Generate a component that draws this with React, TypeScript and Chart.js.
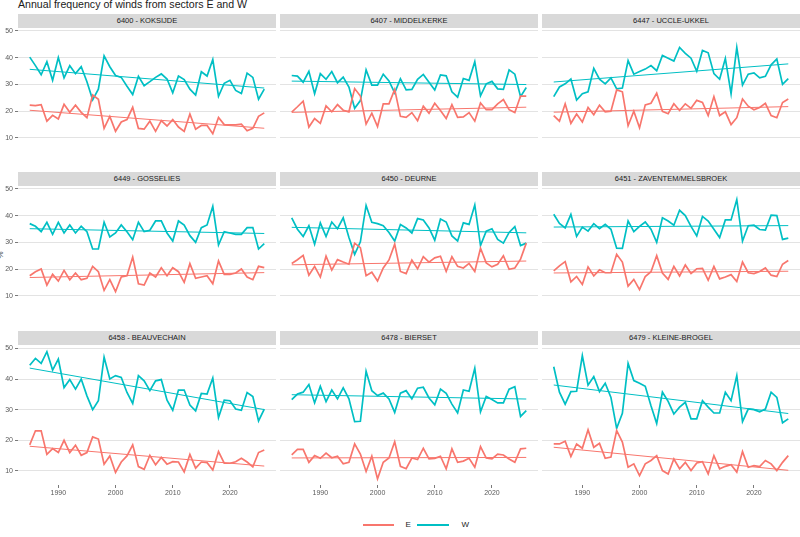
import React, { useEffect, useRef } from "react";
import { Chart, registerables } from "chart.js";
Chart.register(...registerables);

const years = [1985, 1986, 1987, 1988, 1989, 1990, 1991, 1992, 1993, 1994, 1995, 1996, 1997, 1998, 1999, 2000, 2001, 2002, 2003, 2004, 2005, 2006, 2007, 2008, 2009, 2010, 2011, 2012, 2013, 2014, 2015, 2016, 2017, 2018, 2019, 2020, 2021, 2022, 2023, 2024, 2025, 2026];

const stations = [
  "6400 - KOKSIJDE",
  "6407 - MIDDELKERKE",
  "6447 - UCCLE-UKKEL",
  "6449 - GOSSELIES",
  "6450 - DEURNE",
  "6451 - ZAVENTEM/MELSBROEK",
  "6458 - BEAUVECHAIN",
  "6478 - BIERSET",
  "6479 - KLEINE-BROGEL",
];

const E_6400 = [22.2, 22, 22.4, 16.2, 18.4, 17, 22.5, 19.5, 22.2, 19.5, 17.5, 26, 24.4, 13.5, 18, 12.4, 15.9, 16.8, 21.4, 13.5, 13.2, 16.2, 12.4, 16.4, 14.4, 16.8, 14, 12.4, 18.9, 13.2, 14.6, 14.6, 11.5, 17.6, 14.9, 14.8, 14.8, 15.1, 12.6, 13.5, 18, 19.3];
const W_6400 = [40.2, 37, 33.6, 38.5, 31.5, 40, 32.4, 37, 34, 36.6, 31, 24.2, 28.2, 40.7, 36.6, 33.3, 32.6, 29.3, 26.2, 33, 29.5, 31, 32.6, 33.9, 32, 26.8, 33.1, 31.8, 28.2, 26, 34.7, 33.1, 39.3, 25.5, 30.4, 31.5, 27.7, 26.6, 34.2, 32.6, 24.4, 28.2];
const E_6407 = [19.6, 21.6, 23.7, 14, 17.2, 15.4, 21.9, 19.7, 22.4, 20.3, 19.7, 28.4, 25.6, 15.1, 19.2, 14.2, 22.7, 22.7, 28.1, 18, 17.6, 19.4, 16.4, 21.8, 19.2, 22.9, 20.2, 17.2, 22.4, 17.6, 17.8, 19.4, 16.2, 23, 20.5, 20.5, 22.7, 24.3, 20.5, 19.4, 25.6, 25.6];
const W_6407 = [33.3, 33.1, 30.8, 34.9, 26.5, 34, 31.9, 34.8, 30.6, 32.7, 29, 21, 23.9, 35.4, 29.7, 29.7, 33.8, 31.3, 26.8, 32.1, 27.9, 28.1, 31.9, 33.7, 30.8, 27.9, 33.5, 33.2, 27.2, 25.2, 32.2, 31.5, 38.5, 25.7, 30.2, 31.1, 28.3, 28.1, 35.4, 33.8, 25.4, 28.8];
const E_6447 = [18.3, 16.2, 22.7, 15.4, 18.9, 15.9, 21.3, 18.6, 22.2, 19.7, 19.9, 27.9, 27.2, 14.5, 19.9, 13.7, 22.3, 22.9, 26.7, 19.9, 19, 22.7, 20.2, 22.7, 21, 24, 23.2, 18.3, 25.4, 18.3, 19.7, 14.9, 17.5, 24.5, 21.8, 20.5, 21.3, 22.9, 18.3, 17.5, 23.2, 24.5];
const W_6447 = [25.4, 29, 30.2, 32, 24.1, 26.5, 27.2, 36, 31.9, 30.2, 32.4, 28.3, 28.6, 38.9, 33.8, 34.8, 35.7, 37, 35.1, 40.8, 39.8, 38.7, 43.8, 41.6, 39.8, 34.9, 42.7, 41.8, 34, 31.9, 39.7, 26.5, 43.8, 29.7, 33.8, 34.3, 32.4, 33, 37.3, 39.5, 30, 32.1];
const E_6449 = [17.5, 19, 20, 14, 18, 15.5, 19.5, 16, 18.5, 16, 16.5, 21, 19, 12, 16, 11.5, 17, 17.5, 24.5, 14.5, 14, 18.5, 17, 20.5, 17.5, 20.5, 19, 15, 22, 16.5, 17, 17.5, 14.5, 23, 18, 18, 18.5, 20, 17, 16, 21, 20.5];
const W_6449 = [37, 36, 34, 37.5, 33, 37.5, 33.5, 36.5, 33.5, 36, 34, 27.5, 27.5, 37.5, 32, 33.5, 36.5, 34, 31, 37.5, 34, 34.5, 38, 38, 33.5, 30.5, 38, 36.5, 32.5, 30, 35.5, 36.5, 43.5, 29, 34, 33.5, 33, 33, 35.5, 35.5, 27.5, 29.5];
const E_6450 = [22.1, 23.5, 25.1, 17.7, 21, 17, 24.8, 19.6, 23.5, 22.6, 21.8, 29.7, 28, 17.5, 18.8, 15.5, 20.4, 23.4, 29.3, 19.1, 18.3, 23.4, 20.1, 24.6, 22.6, 24.2, 24.8, 19.1, 24.6, 21, 20.4, 22.1, 19.1, 27.8, 22.3, 20.8, 21.8, 25, 19.9, 20.4, 23.7, 29.7];
const W_6450 = [39.2, 34.9, 32.2, 36.2, 29.3, 37.3, 32.2, 37.6, 35.1, 39.2, 31.8, 25.5, 30.2, 43.8, 37.5, 37, 36.2, 33.7, 30.5, 36.7, 35.4, 33.5, 38.9, 38.4, 35.4, 30.8, 38.7, 37.6, 32.4, 30.5, 37.3, 36.7, 44, 28.8, 34.2, 35.1, 31.1, 29.7, 33.7, 35.9, 28.8, 29.7];
const E_6451 = [19.3, 21.2, 22.8, 15.2, 17.2, 14.2, 20.8, 17.4, 19.7, 18.6, 18.6, 25.5, 22.6, 13.6, 16.1, 12.3, 17.2, 19, 25, 18.5, 16.1, 21, 17.4, 21.5, 18.3, 20.1, 20.2, 15.8, 21, 16.3, 17, 17.9, 15.3, 22.6, 18.6, 18.3, 19.1, 20.4, 17.7, 17.2, 21.8, 23.2];
const W_6451 = [40.5, 37.1, 35.4, 40.5, 32.2, 35.7, 34.2, 37, 35.1, 36.7, 34.9, 27.8, 27.7, 38, 34, 36, 37.6, 34.9, 30, 39.2, 38, 36.4, 42, 40, 36, 32.4, 39.7, 38, 34.9, 31.8, 38.4, 38.4, 46, 30.5, 36.2, 36.4, 34.8, 34.6, 40.2, 40, 31.1, 31.6];
const E_6458 = [18.5, 23.1, 23.1, 15.4, 17.3, 16, 20, 16, 18.4, 15.1, 16, 21.1, 20.4, 12.2, 14.9, 9.5, 12.9, 14.9, 18.5, 11.4, 10.5, 15.1, 12, 14.4, 12.2, 13, 12.9, 9.7, 15.4, 10.9, 12.9, 12.7, 10.3, 16.3, 12.5, 12.5, 13, 14.1, 12.9, 11.3, 16, 16.8];
const W_6458 = [44.5, 46.7, 45.1, 48.9, 42.9, 46.5, 37.2, 39.8, 36.7, 40, 34.5, 30, 32.9, 47.1, 40, 41.1, 40.5, 35.6, 32, 41.1, 39.4, 36.2, 39.4, 39.8, 33.1, 29.8, 36.4, 36.4, 31.5, 29.6, 35.3, 35.1, 40.3, 27.4, 33.1, 32.9, 30.2, 29.8, 35.6, 34.3, 26.3, 30.2];
const E_6478 = [15.2, 17, 17, 12.8, 15, 14.1, 15.8, 14.3, 14.8, 12.3, 12.8, 18.8, 15.5, 9.8, 14.8, 7.4, 12.8, 14.2, 19.5, 11.5, 10.7, 14.2, 13.7, 17.4, 13.9, 14.1, 14.8, 10.7, 17.2, 12.8, 13.2, 14.1, 11.2, 17.9, 14.2, 13.9, 15.5, 15.2, 13.9, 12.8, 17.2, 17.4];
const W_6478 = [33.3, 35.1, 35.7, 38.2, 32.2, 37.6, 32.6, 36.4, 33.5, 37.1, 33.5, 26.1, 26.2, 42.5, 36.2, 34.6, 35.4, 33.5, 29.1, 35.4, 36.2, 33.5, 37, 37.3, 33.8, 31.6, 36.7, 35.3, 31.8, 28.9, 36.4, 36, 43.5, 29.3, 34.3, 33.3, 32.2, 32.2, 36.7, 37.5, 27.8, 29.7];
const E_6479 = [18.8, 18.8, 19.7, 14.7, 18.8, 17.4, 23.4, 17.7, 19, 14.1, 14.5, 23.2, 19.4, 11.2, 12.3, 8.5, 12.3, 13.4, 15, 10.1, 9, 13.9, 10.7, 12.8, 10.1, 12.6, 13, 9, 15, 10.7, 11.5, 12, 9.6, 16.3, 11.2, 11.7, 11.4, 13.4, 12.3, 10.1, 12.8, 15];
const W_6479 = [44, 35.7, 31.8, 35.9, 36, 47.6, 38, 40.8, 35.9, 38.6, 34, 23.9, 28.8, 45.1, 39.5, 38.6, 37.6, 31.3, 25.5, 35.7, 32.7, 28.6, 30.8, 32.4, 27, 27, 32.9, 30.8, 28.9, 28.9, 35.7, 32.9, 41.1, 26.1, 30.2, 30, 29.3, 30.2, 35.7, 34, 25.7, 27];

const seriesE = [E_6400, E_6407, E_6447, E_6449, E_6450, E_6451, E_6458, E_6478, E_6479];
const seriesW = [W_6400, W_6407, W_6447, W_6449, W_6450, W_6451, W_6458, W_6478, W_6479];

const yTicks = [10, 20, 30, 40, 50];
const xTicks = [1990, 2000, 2010, 2020];

const RED = "#F8766D";
const TEAL = "#00BFC4";
const GRID = "#E3E3E3";
const TICKC = "#7a7a7a";
const LABELC = "#5a5a5a";
const FONT = "'Liberation Sans', Arial, sans-serif";

const COL_LEFT = [18, 280, 542];
const PANEL_W = 258;
const STRIP_TOP = [14, 172, 331];
const STRIP_H = 14;
const PANEL_H = 140;
const Y_AXIS_W = 18;
const X_AXIS_H = 18;

function lmFit(xs: number[], ys: number[]) {
  const n = xs.length;
  const mx = xs.reduce((a, b) => a + b, 0) / n;
  const my = ys.reduce((a, b) => a + b, 0) / n;
  let sxy = 0, sxx = 0;
  for (let i = 0; i < n; i++) {
    sxy += (xs[i] - mx) * (ys[i] - my);
    sxx += (xs[i] - mx) * (xs[i] - mx);
  }
  const b = sxy / sxx;
  const a = my - b * mx;
  return (x: number) => a + b * x;
}

function Panel({ idx }: { idx: number }) {
  const ref = useRef<HTMLCanvasElement>(null);
  const row = Math.floor(idx / 3);
  const col = idx % 3;
  const left = col === 0 ? 0 : COL_LEFT[col];
  const w = col === 0 ? COL_LEFT[0] + PANEL_W : PANEL_W;
  const top = STRIP_TOP[row] + STRIP_H;
  const h = row === 2 ? PANEL_H + X_AXIS_H : PANEL_H;

  useEffect(() => {
    if (!ref.current) return;
    const e = seriesE[idx];
    const wv = seriesW[idx];
    const fe = lmFit(years, e);
    const fw = lmFit(years, wv);
    const x0 = years[0];
    const x1 = years[years.length - 1];
    const chart = new Chart(ref.current, {
      type: "line",
      data: {
        datasets: [
          { label: "E", data: years.map((y, i) => ({ x: y, y: e[i] })), borderColor: RED, borderWidth: 1.7, pointRadius: 0, tension: 0, fill: false },
          { label: "W", data: years.map((y, i) => ({ x: y, y: wv[i] })), borderColor: TEAL, borderWidth: 1.7, pointRadius: 0, tension: 0, fill: false },
          { label: "E trend", data: [{ x: x0, y: fe(x0) }, { x: x1, y: fe(x1) }], borderColor: RED, borderWidth: 1, pointRadius: 0, fill: false },
          { label: "W trend", data: [{ x: x0, y: fw(x0) }, { x: x1, y: fw(x1) }], borderColor: TEAL, borderWidth: 1, pointRadius: 0, fill: false },
        ],
      },
      options: {
        animation: false,
        responsive: false,
        maintainAspectRatio: false,
        events: [],
        layout: { padding: 0 },
        plugins: { legend: { display: false }, tooltip: { enabled: false }, title: { display: false } },
        scales: {
          x: {
            type: "linear",
            min: 1982.95,
            max: 2028.05,
            display: row === 2,
            afterBuildTicks: (s: any) => { s.ticks = xTicks.map((v) => ({ value: v })); },
            afterFit: (s: any) => { s.height = X_AXIS_H; s.paddingLeft = 0; s.paddingRight = 0; s.paddingTop = 0; s.paddingBottom = 0; },
            border: { display: false },
            grid: { display: true, drawOnChartArea: false, drawTicks: true, tickLength: 3, tickColor: TICKC, color: TICKC },
            ticks: { autoSkip: false, maxRotation: 0, padding: 1, color: LABELC, font: { family: FONT, size: 7 }, callback: (v: any) => String(v) },
          },
          y: {
            type: "linear",
            min: 5.4,
            max: 51.1,
            afterBuildTicks: (s: any) => { s.ticks = yTicks.map((v) => ({ value: v })); },
            afterFit: (s: any) => { s.width = col === 0 ? Y_AXIS_W : 0; s.paddingLeft = 0; s.paddingRight = 0; s.paddingTop = 0; s.paddingBottom = 0; },
            border: { display: false },
            grid: { color: GRID, lineWidth: 1, drawTicks: col === 0, tickLength: 3, tickColor: TICKC },
            ticks: { display: col === 0, padding: 2, color: LABELC, font: { family: FONT, size: 7 } },
          },
        },
      } as any,
    });
    return () => chart.destroy();
  }, []);

  return (
    <canvas
      ref={ref}
      width={w}
      height={h}
      style={{ position: "absolute", left, top, width: w, height: h }}
    />
  );
}

export default function App() {
  return (
    <div style={{ position: "absolute", left: 0, top: 0, width: 800, height: 537, overflow: "hidden", background: "#fff", fontFamily: FONT }}>
      <div style={{ position: "absolute", left: 18, top: -2, fontSize: 10.6, lineHeight: "13px", color: "#1a1a1a", whiteSpace: "nowrap" }}>
        Annual frequency of winds from sectors E and W
      </div>
      <div style={{ position: "absolute", left: -3, top: 250, fontSize: 8, lineHeight: "10px", color: "#444", transform: "rotate(-90deg)" }}>%</div>
      {stations.map((s, i) => {
        const row = Math.floor(i / 3);
        const col = i % 3;
        return (
          <div key={s} style={{ position: "absolute", left: COL_LEFT[col], top: STRIP_TOP[row], width: PANEL_W, height: STRIP_H, background: "#D9D9D9", color: "#1a1a1a", fontSize: 7.5, lineHeight: STRIP_H + "px", textAlign: "center", whiteSpace: "nowrap" }}>
            {s}
          </div>
        );
      })}
      {stations.map((s, i) => <Panel key={"p" + i} idx={i} />)}
      <div style={{ position: "absolute", left: 363, top: 524, width: 31, height: 1.7, background: RED }} />
      <div style={{ position: "absolute", left: 405.5, top: 520, fontSize: 8, lineHeight: "10px", color: "#1a1a1a" }}>E</div>
      <div style={{ position: "absolute", left: 417, top: 524, width: 32, height: 1.7, background: TEAL }} />
      <div style={{ position: "absolute", left: 461.5, top: 520, fontSize: 8, lineHeight: "10px", color: "#1a1a1a" }}>W</div>
    </div>
  );
}
